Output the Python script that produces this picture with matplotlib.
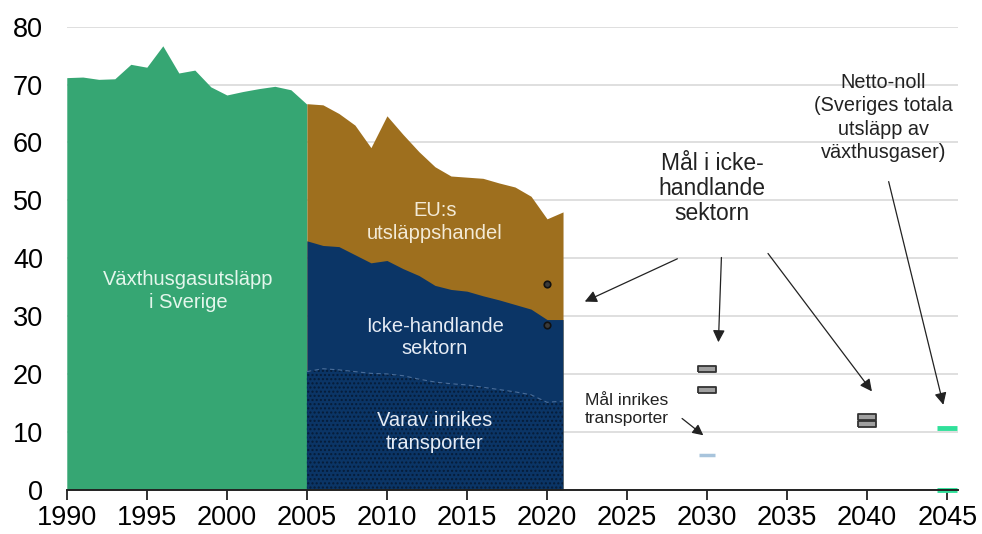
import matplotlib.pyplot as plt
import numpy as np

plt.rcParams['font.family'] = ['Liberation Sans', 'DejaVu Sans']
plt.rcParams['hatch.linewidth'] = 1.0

# Växthusgasutsläpp i Sverige 1990-2005 (Mt CO2e)
years_tot = list(range(1990, 2006))
total = [71.2, 71.3, 70.9, 71.0, 73.5, 73.0, 76.7, 72.0, 72.5, 69.6, 68.2, 68.8,
         69.3, 69.7, 69.1, 66.6]

# 2005-2021 uppdelat
years_split = list(range(2005, 2022))
eu_ets_top = [66.7, 66.5, 65.0, 63.0, 59.1, 64.6, 61.4, 58.4, 55.8, 54.2, 54.0,
              53.8, 53.0, 52.3, 50.7, 46.8, 48.0]
non_trading = [43.0, 42.2, 42.0, 40.6, 39.2, 39.6, 38.2, 37.0, 35.3, 34.6, 34.3,
               33.5, 32.8, 32.0, 31.2, 29.4, 29.4]
transport = [20.4, 20.9, 20.7, 20.4, 20.1, 20.0, 19.7, 19.1, 18.6, 18.3, 18.1,
             17.7, 17.3, 16.9, 16.4, 15.1, 15.3]

# mål
goal_2020_years = [2020, 2020]
goal_2020 = [35.5, 28.5]
goal_nt_years = [2030, 2030, 2040, 2040]
goal_nt = [20.9, 17.2, 12.5, 11.4]
goal_tr_year = [2030]
goal_tr = [6.0]
goal_net_years = [2045, 2045]
goal_net = [10.7, 0.0]

fig, ax = plt.subplots(figsize=(9.82, 5.34), dpi=100)
fig.subplots_adjust(left=0.068, right=0.976, top=0.95, bottom=0.083)

ax.fill_between(years_tot, 0, total, color='#36a673', lw=0, zorder=2)
ax.fill_between(years_split, 0, eu_ets_top, color='#9e6f1e', lw=0, zorder=2)
ax.fill_between(years_split, 0, non_trading, color='#0b3566', lw=0, zorder=3)
ax.fill_between(years_split, 0, transport, facecolor='#0b3566',
                edgecolor='#061c38', hatch='....', lw=0, zorder=4)
ax.plot(years_split, transport, color='#4a6d99', lw=0.8, ls=(0, (4, 3)), zorder=5)

rect = [(-1.6, -0.55), (1.6, -0.55), (1.6, 0.55), (-1.6, 0.55), (-1.6, -0.55)]
ax.scatter(goal_2020_years, goal_2020, s=22, marker='o', facecolor='#3a3a3a',
           edgecolor='#111111', lw=1.2, zorder=6)
ax.scatter(goal_nt_years, goal_nt, s=150, marker=rect, facecolor='#a0a0a0',
           edgecolor='#333333', lw=1.3, zorder=6)
ax.scatter(goal_tr_year, goal_tr, s=130, marker='_', color='#a8c4dc', lw=2.5, zorder=6)
ax.scatter(goal_net_years, goal_net, s=220, marker='_', color='#30e09a', lw=3.5,
           zorder=6, clip_on=False)

ax.set_xlim(1990, 2045.7)
ax.set_ylim(0, 80)
ax.set_xticks(range(1990, 2050, 5))
ax.set_yticks(range(0, 90, 10))
ax.tick_params(axis='x', labelsize=19.5, length=7, width=1.3, direction='out',
               color='#222222', pad=4)
ax.tick_params(axis='y', labelsize=19.5, length=0, pad=17)
ax.yaxis.grid(True, color='#d9d9d9', lw=1.2, zorder=0)
ax.set_axisbelow(True)
for s in ['top', 'right', 'left']:
    ax.spines[s].set_visible(False)
ax.spines['bottom'].set_color('#222222')
ax.spines['bottom'].set_linewidth(1.4)
ax.spines['bottom'].set_zorder(7)

# etiketter i ytorna
ax.text(1997.6, 34.3, 'Växthusgasutsläpp\ni Sverige', ha='center', va='center',
        fontsize=14.5, color='#e4f6ec', linespacing=1.25, zorder=8)
ax.text(2013.0, 46.2, 'EU:s\nutsläppshandel', ha='center', va='center',
        fontsize=14.5, color='#f3ead6', linespacing=1.25, zorder=8)
ax.text(2013.0, 26.3, 'Icke-handlande\nsektorn', ha='center', va='center',
        fontsize=14.5, color='#e6ecf5', linespacing=1.25, zorder=8)
ax.text(2013.0, 10.0, 'Varav inrikes\ntransporter', ha='center', va='center',
        fontsize=14.5, color='#e6ecf5', linespacing=1.25, zorder=8)

# annoteringar
arrow = dict(arrowstyle='-|>', color='#222222', lw=0.9, mutation_scale=18)
ax.text(2030.3, 52.0, 'Mål i icke-\nhandlande\nsektorn', ha='center', va='center',
        fontsize=16.5, color='#222222', linespacing=1.12, zorder=8)
ax.annotate('', xy=(2022.2, 32.3), xytext=(2028.3, 40.1), arrowprops=arrow)
ax.annotate('', xy=(2030.7, 25.0), xytext=(2030.9, 40.6), arrowprops=arrow)
ax.annotate('', xy=(2040.4, 16.6), xytext=(2033.7, 41.2), arrowprops=arrow)

ax.text(2041.0, 64.3, 'Netto-noll\n(Sveriges totala\nutsläpp av\nväxthusgaser)',
        ha='center', va='center', fontsize=14.3, color='#222222', linespacing=1.3,
        zorder=8)
ax.annotate('', xy=(2044.8, 14.2), xytext=(2041.3, 53.7), arrowprops=arrow)

ax.text(2025.0, 13.8, 'Mål inrikes\ntransporter', ha='center', va='center',
        fontsize=12.5, color='#222222', linespacing=1.25, zorder=8)
ax.annotate('', xy=(2029.9, 9.1), xytext=(2028.3, 12.6),
            arrowprops=dict(arrowstyle='-|>', color='#222222', lw=0.9,
                            mutation_scale=16))

fig.savefig('out.png', dpi=100)
